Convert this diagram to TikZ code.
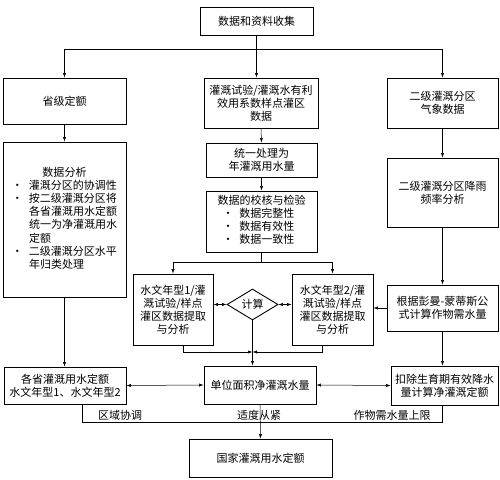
\documentclass[tikz,border=0pt]{standalone}
\usepackage{fontspec}
\setmainfont{Noto Sans CJK SC}
\usetikzlibrary{arrows.meta,shapes.geometric}

\tikzset{
  kuang/.style={draw, line width=0.9pt, align=center, inner sep=1pt, font=\fontsize{11}{13}\selectfont},
  lingxing/.style={draw, diamond, line width=0.9pt, aspect=1.7, inner sep=0pt, font=\fontsize{11}{13}\selectfont},
  biaoqian/.style={inner sep=0pt, font=\fontsize{11}{13}\selectfont},
  xian/.style={line width=0.5pt},
  jian/.style={xian, -{Latex[length=4.5pt,width=3.2pt]}},
  shuang/.style={xian, {Latex[length=4.5pt,width=3.2pt]}-{Latex[length=4.5pt,width=3.2pt]}},
}

\begin{document}
\begin{tikzpicture}[x=1pt,y=-1pt]
				\useasboundingbox (0,0) rectangle (500,479);
				
				% 第一层
				\node[kuang, minimum width=113pt, minimum height=28pt] (shouji) at (256.5,21) {数据和资料收集};
				
				% 左列
				\node[kuang, minimum width=123pt, minimum height=46pt] (sheng) at (64.5,101) {省级定额};
				\node[kuang, minimum width=123pt, minimum height=155pt] (fenxi) at (64.5,219.5) {%
					\begin{tabular}{@{}c@{\hspace{6pt}}l@{}}
						\multicolumn{2}{c}{数据分析}\\
						\textbullet & 灌溉分区的协调性\\
						\textbullet & 按二级灌溉分区将\\
						& 各省灌溉用水定额\\
						& 统一为净灌溉用水\\
						& 定额\\
						\textbullet & 二级灌溉分区水平\\
						& 年归类处理
					\end{tabular}};
				\node[kuang, minimum width=122pt, minimum height=37pt] (gesheng) at (65,385.5) {各省灌溉用水定额\\水文年型1、水文年型2};
				
				% 中列
				\node[kuang, minimum width=114pt, minimum height=50pt] (shiyan) at (261,103) {灌溉试验/灌溉水有利\\效用系数样点灌区\\数据};
				\node[kuang, minimum width=111pt, minimum height=34pt] (tongyi) at (261.5,160) {统一处理为\\年灌溉用水量};
				\node[kuang, minimum width=111pt, minimum height=61pt] (jiaohe) at (261.5,221.5) {%
					\begin{tabular}{@{}l@{\hspace{6pt}}l@{}}
						\multicolumn{2}{@{}l@{}}{数据的校核与检验}\\
						\hspace{5pt}\textbullet & 数据完整性\\
						\hspace{5pt}\textbullet & 数据有效性\\
						\hspace{5pt}\textbullet & 数据一致性
					\end{tabular}};
				\node[kuang, minimum width=80pt, minimum height=71pt] (nian1) at (173,309.5) {水文年型1/灌\\溉试验/样点\\灌区数据提取\\与分析};
				\node[kuang, minimum width=81pt, minimum height=71pt] (nian2) at (332.5,309.5) {水文年型2/灌\\溉试验/样点\\灌区数据提取\\与分析};
				\node[lingxing, minimum width=51pt, minimum height=31pt] (jisuan) at (252.5,304.5) {计算};
				\node[kuang, minimum width=112pt, minimum height=38pt] (danwei) at (260,385) {单位面积净灌溉水量};
				\node[kuang, minimum width=143pt, minimum height=38pt] (guojia) at (260.5,458) {国家灌溉用水定额};
				
				% 右列
				\node[kuang, minimum width=111pt, minimum height=50pt] (qixiang) at (442.5,103) {二级灌溉分区\\气象数据};
				\node[kuang, minimum width=111pt, minimum height=69pt] (jiangyu) at (442.5,192.5) {二级灌溉分区降雨\\频率分析};
				\node[kuang, minimum width=111pt, minimum height=46pt] (penman) at (442.5,308) {根据彭曼-蒙蒂斯公\\式计算作物需水量};
				\node[kuang, minimum width=107pt, minimum height=39pt] (kouchu) at (444.5,385.5) {扣除生育期有效降水\\量计算净灌溉定额};
				
				% 顶部分支
				\coordinate (ding) at (256.5,49);
				\draw[jian] (shouji.south) -- (shouji.south |- shiyan.north);
				\draw[jian] (ding) -| (sheng.north);
				\draw[jian] (ding) -| (qixiang.north);
				
				% 纵向箭头
				\draw[jian] (sheng.south) -- (fenxi.north);
				\draw[jian] (fenxi.south) -- (fenxi.south |- gesheng.north);
				\draw[jian] (shiyan.south) -- (tongyi.north);
				\draw[jian] (tongyi.south) -- (jiaohe.north);
				\draw[jian] (qixiang.south) -- (jiangyu.north);
				\draw[jian] (jiangyu.south) -- (penman.north);
				\draw[jian] (penman.south) -- (penman.south |- kouchu.north);
				
				% 分到两个水文年型
				\coordinate (fen) at (261.5,262);
				\draw[xian] (jiaohe.south) -- (fen);
				\draw[jian] (fen) -| (nian1.north);
				\draw[jian] (fen) -| (nian2.north);
				
				% 计算
				\draw[shuang] (nian1.east |- jisuan) -- (jisuan.west);
				\draw[shuang] (jisuan.east) -- (jisuan.east -| nian2.west);
				\draw[jian] (penman.west) -- (penman.west -| nian2.east);
				
				% 汇到单位面积净灌溉水量
				\coordinate (hui) at (252.5,352);
				\draw[jian] (jisuan.south) -- (jisuan.south |- danwei.north);
				\draw[jian] ([xshift=10pt]nian1.south) |- (hui);
				\draw[jian] ([xshift=-10pt]nian2.south) |- (hui);
				
				% 第四层
				\draw[shuang] (gesheng.east) -- (danwei.west);
				\draw[shuang] (danwei.east) -- (kouchu.west);
				
				% 底部
				\draw[xian] ([xshift=17pt]gesheng.south) -- ++(0,18) -| ([xshift=-2.5pt]kouchu.south);
				\draw[jian] (danwei.south) -- (guojia.north);
				\node[biaoqian, anchor=south] (quyu) at (120,421) {区域协调};
				\node[biaoqian, anchor=south] (shidu) at (259,421) {适度从紧};
				\node[biaoqian, anchor=south] (zuowu) at (392,421) {作物需水量上限};
			\end{tikzpicture}
\end{document}
